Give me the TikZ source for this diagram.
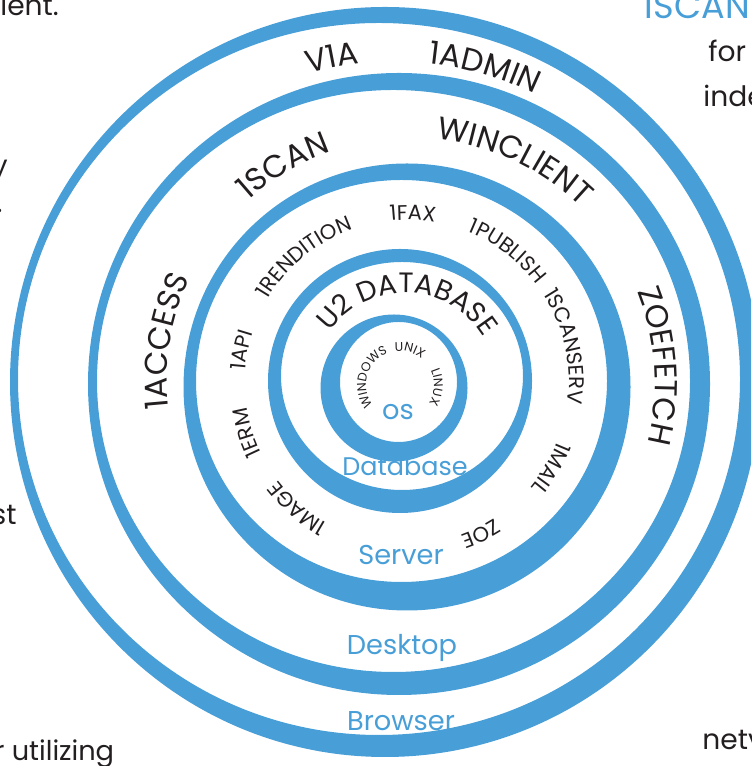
\documentclass[tikz,border=0pt]{standalone}
\usepackage{fontspec}
\setmainfont{Poppins}
\usetikzlibrary{decorations.text}

\definecolor{ringblue}{HTML}{489ED7}
\definecolor{ink}{HTML}{231F20}

% word set on a clockwise arc: font, word, centre, angle, radius
\newcommand{\arctext}[5]{%
	\path[decorate, decoration={text along path, text align=center,
		text color=ink, text/.expanded={|\noexpand#1|#2}}]
		(#3) ++({#4+\wide}:#5) arc[start angle={#4+\wide}, end angle={#4-\wide}, radius=#5];%
}

\begin{document}
\begin{tikzpicture}[x=0.02cm, y=0.02cm,
	ring/.style={fill=ringblue, even odd rule},
	layer/.style={text=ringblue, font=\fontsize{15.5}{18}\selectfont, anchor=base, inner sep=0pt},
	page/.style={text=ink, font=\fontsize{16}{19}\selectfont, inner sep=0pt}]
	\def \wide{70}
	\def \bigfont{\fontsize{18}{20}\selectfont}
	\def \dbfont{\fontsize{16}{18}\selectfont}
	\def \srvfont{\fontsize{12}{14}\selectfont}
	\def \osfont{\fontsize{7.2}{8}\selectfont}

	\useasboundingbox (0,0) rectangle (751,766);
	\clip (0,0) rectangle (751,766);

	% Rings: outer circle minus a shifted inner ellipse
	\foreach \ox/\oy/\orad/\ix/\iy/\irx/\iry in {
			385/384/375/379/387/361/356,
			399/382/311/393.5/385/296.5/291,
			407/379/223.5/401.5/385/205.5/201,
			400/385/132/402/390/121/114,
			394/378/73.5/398.5/384/58.5/60} {
		\fill[ring] (\ox,\oy) circle[radius=\orad]
			(\ix,\iy) ellipse[x radius=\irx, y radius=\iry];
	}

	% Centres of the curved words
	\coordinate (browsermid) at (395,384);
	\coordinate (desktopmid) at (411,384);
	\coordinate (servermid) at (407,384);
	\coordinate (dbmid) at (405,381);
	\coordinate (osmid) at (400,381);

	% Curved words
	\foreach \ang/\word in {101/V1A, 74/1ADMIN}
		\arctext{\bigfont}{\word}{browsermid}{\ang}{320};
	\foreach \ang/\word in {120.5/1SCAN, 65/WINCLIENT, 3.7/ZOEFETCH, 170.5/1ACCESS}
		\arctext{\bigfont}{\word}{desktopmid}{\ang}{244};
	\foreach \ang/\word in {129.4/1RENDITION, 88/1FAX, 52.5/1PUBLISH, 12.6/1SCANSERV,
			-31/1MAIL, -64/ZOE, 229/1MAGE, 197.5/1ERM, 169/1API}
		\arctext{\srvfont}{\word}{servermid}{\ang}{162};
	\arctext{\dbfont}{U2 DATABASE}{dbmid}{88}{92};
	\foreach \ang/\word in {74.6/UNIX, -3.5/LINUX, 164/WINDOWS}
		\arctext{\osfont}{\word}{osmid}{\ang}{34};

	% Layer names
	\node[layer] (os) at (398,346) {os};
	\node[layer, font=\fontsize{14.5}{18}\selectfont] (database) at (405,290) {Database};
	\node[layer] (server) at (401,201) {Server};
	\node[layer] (desktop) at (402,111) {Desktop};
	\node[layer] (browser) at (401,35) {Browser};

	% Text of the page round the picture
	\node[page, anchor=base west] (client) at (0,750) {ient.};
	\node[page, anchor=base east] (yarm) at (8,590) {y};
	\node[page, anchor=base east] (stop) at (3,553) {.};
	\node[page, anchor=base east] (most) at (17,241) {st};
	\node[page, anchor=base west, font=\fontsize{15.5}{19}\selectfont] (utilizing) at (-6,6) {r utilizing};
	\node[page, anchor=base west] (forword) at (708,704) {for};
	\node[page, anchor=base west] (index) at (703,659) {inde};
	\node[page, anchor=base west] (network) at (702,16) {netv};
	\node[anchor=base west, inner sep=0pt, text=ringblue, font=\fontsize{20}{24}\selectfont]
		(scanhead) at (642,747) {1SCAN};
\end{tikzpicture}
\end{document}
